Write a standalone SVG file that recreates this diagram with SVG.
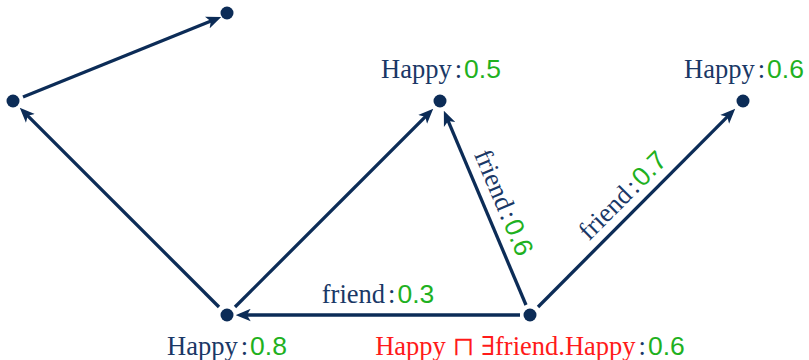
<svg xmlns="http://www.w3.org/2000/svg" width="809" height="360" viewBox="0 0 809 360">
<style>
.node{fill:#0c2c57}
.edge{stroke:#0c2c57;stroke-width:3.3;fill:none;marker-end:url(#arr)}
.t{font-family:"Liberation Serif","DejaVu Serif",serif;font-size:26.5px;fill:#1a3866}
.n{font-family:"Liberation Sans","DejaVu Sans",sans-serif;fill:#1fb11f}
.r{fill:#ff1a1a}
.s{font-family:"DejaVu Serif",serif;font-size:26px}
</style>
<defs>
<marker id="arr" viewBox="0 0 12 10" refX="8" refY="5" markerWidth="15" markerHeight="13" markerUnits="userSpaceOnUse" orient="auto">
<path d="M0,0 L12,5 L0,10 L3,5 z" fill="#0c2c57"/>
</marker>
</defs>
<g id="connectors">
<line class="edge" x1="23" y1="97" x2="216.6" y2="18.8"/>
<line class="edge" x1="219" y1="307" x2="23.3" y2="111.3"/>
<line class="edge" x1="235" y1="307" x2="429.7" y2="112.3"/>
<line class="edge" x1="520" y1="315" x2="240.7" y2="315"/>
<line class="edge" x1="526" y1="305" x2="445.8" y2="115.3"/>
<line class="edge" x1="538" y1="307" x2="731.7" y2="112.3"/>
<text class="t" x="378" y="303" text-anchor="middle">friend<tspan dx="3">:</tspan><tspan class="n" dx="2">0.3</tspan></text>
<text class="t" text-anchor="middle" transform="translate(495.6,206) rotate(67.1)">friend<tspan dx="3">:</tspan><tspan class="n" dx="2">0.6</tspan></text>
<text class="t" text-anchor="middle" transform="translate(628.7,201.7) rotate(-45)">friend<tspan dx="3">:</tspan><tspan class="n" dx="2">0.7</tspan></text>
</g>
<g id="nodeA"><circle class="node" cx="227" cy="13" r="6.5"/></g>
<g id="nodeB"><circle class="node" cx="13" cy="101" r="6.5"/></g>
<g id="nodeC"><circle class="node" cx="440" cy="101" r="6.5"/>
<text class="t" x="441" y="78" text-anchor="middle">Happy<tspan dx="3">:</tspan><tspan class="n" dx="2">0.5</tspan></text></g>
<g id="nodeD"><circle class="node" cx="743" cy="101" r="6.5"/>
<text class="t" x="744" y="78" text-anchor="middle">Happy<tspan dx="3">:</tspan><tspan class="n" dx="2">0.6</tspan></text></g>
<g id="nodeE"><circle class="node" cx="227" cy="315" r="6.5"/>
<text class="t" x="227" y="355" text-anchor="middle">Happy<tspan dx="3">:</tspan><tspan class="n" dx="2">0.8</tspan></text></g>
<g id="nodeF"><circle class="node" cx="530" cy="315" r="6.5"/>
<text class="t" x="530" y="355" text-anchor="middle"><tspan class="r">Happy <tspan class="s">⊓</tspan> <tspan class="s">∃</tspan>friend.Happy</tspan><tspan dx="3">:</tspan><tspan class="n" dx="2">0.6</tspan></text></g>
</svg>
